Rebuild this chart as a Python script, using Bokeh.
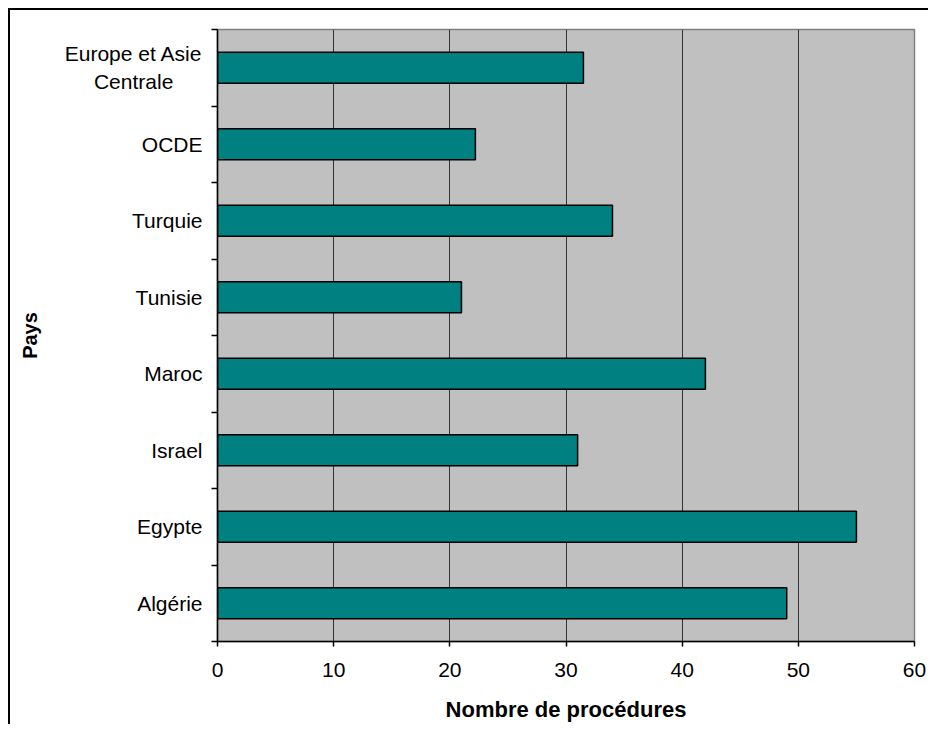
import numpy as np
from bokeh.plotting import figure
from bokeh.models import Range1d, FixedTicker, ColumnDataSource
from bokeh.embed import file_html
from bokeh.resources import INLINE

# Data (bottom to top, as drawn)
countries = ["Algérie", "Egypte", "Israel", "Maroc", "Tunisie", "Turquie", "OCDE",
             "Europe et Asie\nCentrale\u00a0\u00a0\u00a0\u00a0\u00a0"]
procedures = [49, 55, 31, 42, 21, 34, 22.2, 31.5]
x_ticks = [0, 10, 20, 30, 40, 50, 60]

pos = np.arange(len(countries)) + 0.5
src = ColumnDataSource(dict(y=pos, v=procedures, name=countries))

FONT = "Liberation Sans"

p = figure(frame_width=697, frame_height=612,
           x_range=Range1d(0, 60), y_range=Range1d(0, len(countries)),
           output_backend="svg", toolbar_location=None,
           min_border_left=207, min_border_top=19, min_border_right=14, min_border_bottom=80,
           background_fill_color="#C0C0C0", border_fill_color="white")
p.styles = {"border-top": "2px solid black", "border-left": "2px solid black",
            "margin-left": "8px", "margin-top": "8px"}

p.hbar(y="y", right="v", left=0, height=0.405, source=src,
       fill_color="#008080", line_color="black", line_width=1.5)

p.outline_line_color = "#808080"
p.outline_line_width = 1.5

# x axis
p.xaxis.ticker = FixedTicker(ticks=x_ticks)
p.xaxis.axis_label = "Nombre de procédures"
p.xaxis.axis_label_text_font = FONT
p.xaxis.axis_label_text_font_style = "bold"
p.xaxis.axis_label_text_font_size = "22px"
p.xaxis.axis_label_text_color = "black"
p.xaxis.axis_label_standoff = 17
p.xaxis.major_label_text_font = FONT
p.xaxis.major_label_text_font_size = "21px"
p.xaxis.major_label_text_color = "black"
p.xaxis.major_label_standoff = 16
p.xaxis.major_tick_out = 5
p.xaxis.major_tick_in = 0
p.xaxis.minor_tick_line_color = None
p.xaxis.axis_line_color = "black"
p.xaxis.axis_line_width = 1.5
p.xaxis.major_tick_line_width = 1.5

# y axis
p.yaxis.ticker = FixedTicker(ticks=list(pos), minor_ticks=list(range(len(countries) + 1)))
p.yaxis.major_label_overrides = {float(y): n for y, n in zip(pos, countries)}
p.yaxis.axis_label = "Pays"
p.yaxis.axis_label_text_font = FONT
p.yaxis.axis_label_text_font_style = "bold"
p.yaxis.axis_label_text_font_size = "20px"
p.yaxis.axis_label_text_color = "black"
p.yaxis.axis_label_standoff = 21
p.yaxis.major_label_text_font = FONT
p.yaxis.major_label_text_font_size = "21px"
p.yaxis.major_label_text_color = "black"
p.yaxis.major_label_standoff = 9
p.yaxis.major_tick_line_color = None
p.yaxis.major_tick_out = 0
p.yaxis.major_tick_in = 0
p.yaxis.minor_tick_out = 6
p.yaxis.minor_tick_in = 0
p.yaxis.minor_tick_line_color = "black"
p.yaxis.minor_tick_line_width = 1.5
p.yaxis.axis_line_color = "black"
p.yaxis.axis_line_width = 1.5

p.xgrid.ticker = FixedTicker(ticks=x_ticks)
p.xgrid.grid_line_color = "#333333"
p.xgrid.grid_line_width = 1
p.ygrid.grid_line_color = None

open("out.html", "w").write(file_html(p, INLINE))
